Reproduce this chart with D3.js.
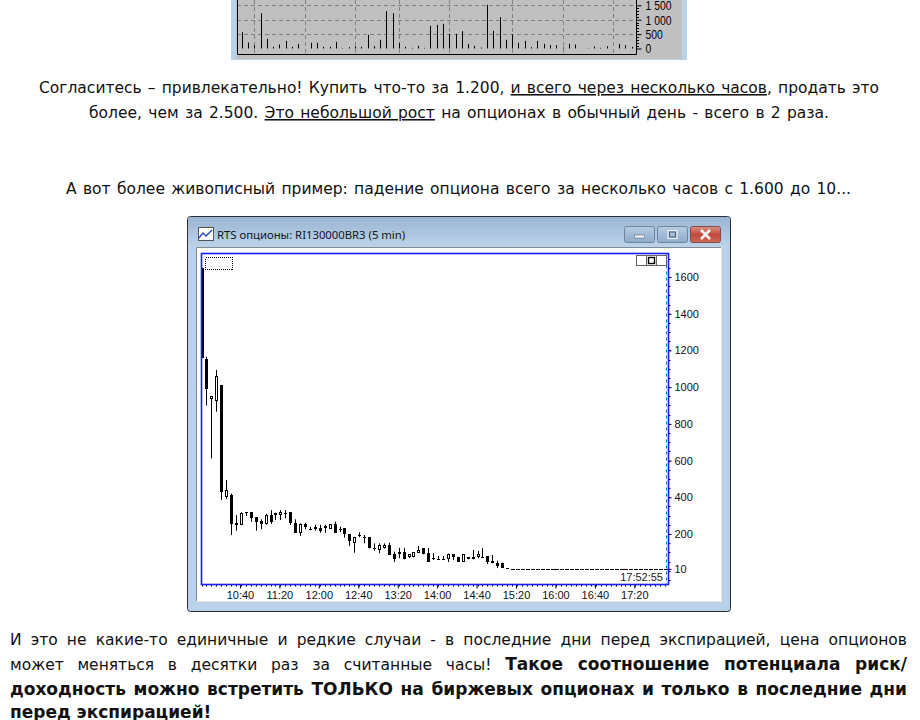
<!DOCTYPE html>
<html><head><meta charset="utf-8">
<script src="https://cdn.jsdelivr.net/npm/d3@7"></script>
<style>html,body{margin:0;padding:0;background:#fff;overflow:hidden}svg{display:block}</style>
</head><body><svg id="c" width="920" height="720"></svg>
<script>
// ---- candles: one per 5 minutes from 10:00 ----
const candleOpen=[1650,1154,937,926,1012,400,412,258,250,318,
320,291,272,254,303,316,302,313,318,262,
207,254,229,229,233,242,229,253,227,231,
200,149,195,186,182,122,113,122,140,93,
89,102,75,73,98,124,95,71,63,63,
62,89,75,49,73,62,75,74,80,53,
44,40,15,10,10,10,10,10,10,10,
10,10,10,10,10,10,10,10,10,10,
10,10,10,10,10,10,10,10,10,10,
10,10,10,10,10];
const candleClose=[1160,988,952,1061,430,440,254,250,313,318,
289,267,254,302,267,302,320,311,258,207,
254,236,220,240,218,231,253,207,225,200,
160,182,193,185,122,120,140,140,87,62,
104,62,89,102,113,89,49,69,63,63,
89,73,49,89,62,76,89,73,49,40,
26,16,12,10,10,10,10,10,10,10,
10,10,10,10,10,10,10,10,10,10,
10,10,10,10,10,10,10,10,10,10,
10,10,10,10,10];
const candleHigh=[1650,1166,952,1094,1012,494,420,303,318,320,
320,291,280,310,330,316,330,330,320,280,
258,262,240,250,250,250,253,267,240,231,
200,182,209,195,182,149,149,149,153,104,
125,125,89,102,135,124,124,95,80,80,
93,89,75,89,73,113,107,124,80,86,
55,44,15,10,10,10,10,10,10,10,
10,10,10,10,10,10,10,10,10,10,
10,10,10,10,10,10,10,10,10,10,
10,10,10,10,10];
const candleLow=[1160,900,612,866,385,390,194,218,250,298,
267,218,227,250,254,276,276,285,249,207,
189,225,220,218,207,207,229,207,209,180,
135,98,182,149,122,109,95,120,87,47,
68,62,68,73,98,89,49,58,62,62,
47,58,49,49,62,62,68,73,36,40,
15,14,12,10,10,10,10,10,10,10,
10,10,10,10,10,10,10,10,10,10,
10,10,10,10,10,10,10,10,10,10,
10,10,10,10,10];
const timeTicks=["10:40","11:20","12:00","12:40","13:20","14:00","14:40","15:20","16:00","16:40","17:20"];
const priceTicks=[10,200,400,600,800,1000,1200,1400,1600];
const windowTitle="RTS опционы: RI130000BR3 (5 min)";
const lastTime="17:52:55";
// ---- cropped volume chart at the top ----
const volumes=[567,208,104,1226,335,58,139,266,58,162,0,197,197,58,58,231,12,46,69,58,
474,81,300,1296,1226,197,58,23,92,23,787,821,856,509,509,602,162,92,35,1515,
613,1087,300,486,197,266,46,266,162,116,116,35,162,139,0,12,69,23,81,0,162,116,58];
const volumeGridBars=[2,10,18,25,33,43,51,59];
const volumeTicks=[0,500,1000,1500];
const volumeTickLabels=["0","500","1 000","1 500"];
// ---- article text ----
const introLines=[
 [["Согласитесь – привлекательно! Купить что-то за 1.200, "],["и всего через несколько часов",1],[", продать это"]],
 [["более, чем за 2.500. "],["Это небольшой рост",1],[" на опционах в обычный день - всего в 2 раза."]],
 [["А вот более живописный пример: падение опциона всего за несколько часов с 1.600 до 10..."]]
];
const closingLines=[
 [["И это не какие-то единичные и редкие случаи - в последние дни перед экспирацией, цена опционов"]],
 [["может меняться в десятки раз за считанные часы! "],["Такое соотношение потенциала риск/",0,1]],
 [["доходность можно встретить ТОЛЬКО на биржевых опционах и только в последние дни",0,1]],
 [["перед экспирацией!",0,1]]
];

const svg=d3.select("#c");
const FONT="'DejaVu Sans',sans-serif", UI="'Liberation Sans',Arial,sans-serif";
const BOLD_SIZE=17;

function textLine(segs,x,y,target,size){
  const t=svg.append("text").attr("x",x).attr("y",y).attr("font-family",FONT).attr("font-size",size).attr("fill","#111");
  t.style("white-space","pre");
  segs.forEach(s=>{
    t.append("tspan").text(s[0]).attr("text-decoration",s[1]?"underline":null)
      .attr("font-weight",s[2]?"bold":null).attr("font-size",s[2]?BOLD_SIZE:null);
  });
  if(target){
    const len=t.node().getComputedTextLength();
    const gaps=segs.map(s=>s[0]).join("").split(" ").length-1;
    t.style("word-spacing",((target-len)/gaps)+"px");
  }
  return t;
}

// ---- volume chart fragment ----
svg.append("rect").attr("x",231).attr("y",0).attr("width",456).attr("height",60).attr("fill","#b8d2ec");
svg.append("rect").attr("x",236).attr("y",0).attr("width",446).attr("height",59).attr("fill","#c0c0c0");
const vx=d3.scaleLinear().domain([0,62]).range([241.7,631.7]);
const vy=d3.scaleLinear().domain([0,1500]).range([48.5,5.3]);
const vg=svg.append("g");
vg.selectAll("line.h").data(volumeTicks.slice(1)).join("line").attr("x1",237).attr("x2",636)
  .attr("y1",d=>Math.round(vy(d))+.5).attr("y2",d=>Math.round(vy(d))+.5)
  .attr("stroke","#808080").attr("stroke-dasharray","4 3");
vg.selectAll("line.v").data(volumeGridBars).join("line").attr("y1",0).attr("y2",54)
  .attr("x1",d=>Math.round(vx(d))+.5).attr("x2",d=>Math.round(vx(d))+.5)
  .attr("stroke","#808080").attr("stroke-dasharray","4 3");
vg.selectAll("line.b").data(volumes).join("line")
  .attr("x1",(d,i)=>Math.round(vx(i))+.5).attr("x2",(d,i)=>Math.round(vx(i))+.5)
  .attr("y1",48.5).attr("y2",d=>vy(d)).attr("stroke","#000");
svg.append("path").attr("d","M237.5,0V54.5H636.5V0").attr("fill","none").attr("stroke","#000");
const vAxis=d3.axisRight(vy).tickValues(volumeTicks).tickSize(5).tickPadding(4).tickFormat((d,i)=>volumeTickLabels[i]);
const vAx=svg.append("g").attr("transform","translate(636.5,0)").call(vAxis);
vAx.select(".domain").remove();
vAx.selectAll("text").attr("font-family",UI).attr("font-size",13.5).attr("fill","#000")
  .attr("lengthAdjust","spacingAndGlyphs").attr("textLength",function(){return this.getComputedTextLength()*0.77;});
vAx.selectAll("line").attr("stroke","#000");
svg.append("g").selectAll("line").data([100,200,300,400,600,700,800,900,1100,1200,1300,1400]).join("line")
  .attr("x1",636.5).attr("x2",639).attr("y1",d=>Math.round(vy(d))+.5).attr("y2",d=>Math.round(vy(d))+.5).attr("stroke","#000");

// ---- article text ----
textLine(introLines[0],39,93,840,15.5);
textLine(introLines[1],89,118,740,15.5);
textLine(introLines[2],66,194,785,15.5);
textLine(closingLines[0],10,645,897,15.5);
textLine(closingLines[1],10,670,897,15.5);
textLine(closingLines[2],10,695,897,15.5);
textLine(closingLines[3],10,718,null,15.5);

// ---- window frame ----
const defs=svg.append("defs");
const g1=defs.append("linearGradient").attr("id","glass").attr("x1",0).attr("y1",0).attr("x2",0).attr("y2",1);
g1.append("stop").attr("offset",0).attr("stop-color","#9ab5d3");
g1.append("stop").attr("offset",1).attr("stop-color","#bcd3ea");
const g2=defs.append("linearGradient").attr("id","btn").attr("x1",0).attr("y1",0).attr("x2",0).attr("y2",1);
g2.append("stop").attr("offset",0).attr("stop-color","#b7cde3");
g2.append("stop").attr("offset",.5).attr("stop-color","#a3bcd6");
g2.append("stop").attr("offset",1).attr("stop-color","#8fabc9");
const g3=defs.append("linearGradient").attr("id","close").attr("x1",0).attr("y1",0).attr("x2",0).attr("y2",1);
g3.append("stop").attr("offset",0).attr("stop-color","#d9948a");
g3.append("stop").attr("offset",.5).attr("stop-color","#c2493a");
g3.append("stop").attr("offset",1).attr("stop-color","#cc6a5a");
svg.append("rect").attr("x",187.5).attr("y",216.5).attr("width",543).attr("height",395).attr("rx",3)
  .attr("fill","#b9d1ea").attr("stroke","#2a2f36");
svg.append("rect").attr("x",188).attr("y",217).attr("width",542).attr("height",30).attr("rx",3).attr("fill","url(#glass)");
svg.append("rect").attr("x",196).attr("y",247).attr("width",526).attr("height",355).attr("fill","#fff");
svg.append("path").attr("d","M196.5,602V247.5H721.5").attr("fill","none").attr("stroke","#7f8a94");
svg.append("path").attr("d","M196,601.5H721.5V247").attr("fill","none").attr("stroke","#e4e4e4");
// caption
const ic=svg.append("g").attr("transform","translate(198,227)");
ic.append("rect").attr("x",.5).attr("y",.5).attr("width",15).attr("height",13).attr("fill","#fff").attr("stroke","#555");
ic.append("path").attr("d","M1,11L5,6L8,9L14,3").attr("fill","none").attr("stroke","#2244bb").attr("stroke-width",1.3);
svg.append("text").attr("x",217).attr("y",238.5).attr("font-family","'Noto Sans',sans-serif").attr("font-size",11.3).attr("fill","#10181f").text(windowTitle);
[[624.5,30],[657.5,30]].forEach(b=>svg.append("rect").attr("x",b[0]).attr("y",226.5).attr("width",b[1]).attr("height",16).attr("rx",2)
  .attr("fill","url(#btn)").attr("stroke","#6f86a0"));
svg.append("rect").attr("x",690.5).attr("y",226.5).attr("width",30).attr("height",16).attr("rx",2).attr("fill","url(#close)").attr("stroke","#8a4a44");
svg.append("rect").attr("x",634.5).attr("y",235).attr("width",10).attr("height",3).attr("fill","#eef2f6").attr("stroke","#5d6f85").attr("stroke-width",.6);
svg.append("rect").attr("x",668).attr("y",230.5).attr("width",9).attr("height",8).attr("fill","none").attr("stroke","#eef2f6").attr("stroke-width",1.2);
svg.append("rect").attr("x",669.5).attr("y",232).attr("width",6).attr("height",5).attr("fill","none").attr("stroke","#4d5f75").attr("stroke-width",1);
svg.append("path").attr("d","M701,230L710,239M710,230L701,239").attr("stroke","#f4f4f4").attr("stroke-width",2.6);

// ---- candle chart ----
const x=d3.scaleLinear().domain([0,94]).range([201.5,664.9]);
const y=d3.scaleLinear().domain([0,1600]).range([570.7,277]);
const L=201.5,T=253.5,R=668.5,B=584.5;
defs.append("clipPath").attr("id","plot").append("rect").attr("x",L).attr("y",T).attr("width",R-L).attr("height",B-T);
const candles=candleOpen.map((o,i)=>({i,o,c:candleClose[i],h:candleHigh[i],l:candleLow[i]}));
const cg=svg.append("g").attr("clip-path","url(#plot)");
const px=d=>Math.round(x(d.i));
cg.selectAll("line.w").data(candles.filter(d=>d.h!==d.l)).join("line").attr("class","w")
  .attr("x1",d=>px(d)+.5).attr("x2",d=>px(d)+.5).attr("y1",d=>y(d.h)).attr("y2",d=>y(d.l)).attr("stroke","#000");
cg.selectAll("rect.dn").data(candles.filter(d=>d.c<=d.o)).join("rect").attr("class","dn")
  .attr("x",d=>px(d)-1).attr("width",d=>d.h===d.l?4:3)
  .attr("y",d=>Math.round(y(d.o))).attr("height",d=>Math.max(1,Math.round(y(d.c))-Math.round(y(d.o)))).attr("fill","#000");
cg.selectAll("rect.up").data(candles.filter(d=>d.c>d.o)).join("rect").attr("class","up")
  .attr("x",d=>px(d)-1+.5).attr("width",2)
  .attr("y",d=>Math.round(y(d.c))+.5).attr("height",d=>Math.max(1,Math.round(y(d.o))-Math.round(y(d.c))-1)).attr("fill","#fff").attr("stroke","#000");

// axes
const tickIdx=timeTicks.map(s=>{const [h,m]=s.split(":").map(Number);return (h*60+m-600)/5;});
const xAx=svg.append("g").attr("transform",`translate(-1,${B})`)
  .call(d3.axisBottom(x).tickValues(tickIdx).tickSize(4).tickPadding(3).tickFormat((d,i)=>timeTicks[i]));
xAx.select(".domain").remove();
xAx.selectAll("line").attr("stroke","#000");
xAx.selectAll("text").attr("font-family",UI).attr("font-size",11).attr("fill","#111");
svg.append("g").selectAll("line").data(d3.range(0,95)).join("line")
  .attr("x1",d=>Math.round(x(d))+.5).attr("x2",d=>Math.round(x(d))+.5).attr("y1",B).attr("y2",B+2).attr("stroke","#000");
const yAx=svg.append("g").attr("transform",`translate(${R},0)`)
  .call(d3.axisRight(y).tickValues(priceTicks).tickSize(3).tickPadding(3).tickFormat(d3.format("d")));
yAx.select(".domain").remove();
yAx.selectAll("line").attr("stroke","#000");
yAx.selectAll("text").attr("font-family",UI).attr("font-size",11).attr("fill","#111");
svg.append("g").selectAll("line").data(d3.range(-50,1750,50)).join("line")
  .attr("x1",R).attr("x2",R+2).attr("y1",d=>Math.round(y(d))+.5).attr("y2",d=>Math.round(y(d))+.5).attr("stroke","#000");
svg.append("rect").attr("x",L).attr("y",T).attr("width",R-L).attr("height",B-T).attr("fill","none").attr("stroke","#1a1aff").attr("stroke-width",1.6);
svg.append("line").attr("x1",666.5).attr("x2",666.5).attr("y1",T).attr("y2",B).attr("stroke","#008a8a").attr("stroke-dasharray","3 3");
svg.append("text").attr("x",663).attr("y",581).attr("text-anchor","end").attr("font-family",UI).attr("font-size",11).attr("fill","#222").text(lastTime);
// legend placeholder and pane buttons
svg.append("rect").attr("x",205.5).attr("y",257.5).attr("width",27).attr("height",12).attr("fill","none").attr("stroke","#000").attr("stroke-dasharray","1 1").attr("shape-rendering","crispEdges");
svg.append("rect").attr("x",636.5).attr("y",255.5).attr("width",30).attr("height",10).attr("fill","#fff").attr("stroke","#666");
svg.append("path").attr("d","M646.5,255.5V265.5M656.5,255.5V265.5").attr("stroke","#666");
svg.append("rect").attr("x",648.5).attr("y",257.5).attr("width",6).attr("height",6).attr("fill","none").attr("stroke","#000").attr("stroke-width",1.4);
</script></body></html>
